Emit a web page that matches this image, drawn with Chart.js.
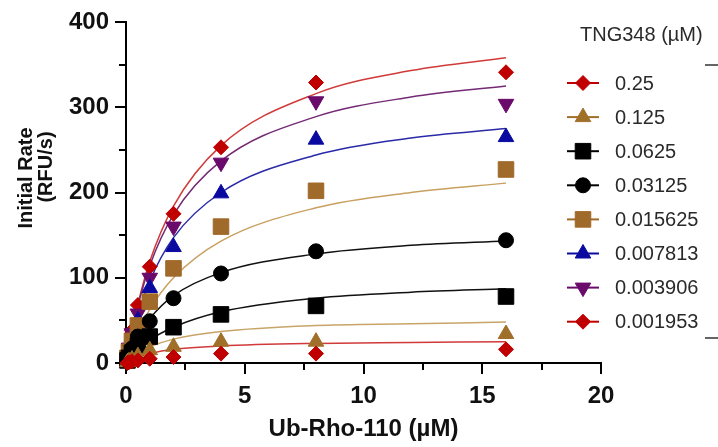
<!DOCTYPE html>
<html>
<head>
<meta charset="utf-8">
<title>Ub-Rho-110 kinetics</title>
<script src="https://cdn.jsdelivr.net/npm/chart.js@4.4.1/dist/chart.umd.min.js"></script>
<style>
    html, body { margin: 0; padding: 0; background: #fff; }
    #wrap { position: relative; width: 718px; height: 447px; }
</style>
</head>
<body>
<div id="wrap"><canvas id="chart"></canvas></div>
<script>
'use strict';

// Ub-Rho-110 concentrations (µM) of the measured points
const substrate = [0.0625, 0.125, 0.25, 0.5, 1, 2, 4, 8, 16];
const fitX = [0, 0.25, 0.5, 1, 2, 4, 8, 12, 16];

// TNG348 concentrations (µM), legend order
const inhibitor = ['0.25', '0.125', '0.0625', '0.03125', '0.015625', '0.007813', '0.003906', '0.001953'];

// initial rates (RFU/s)
const rate_0_25     = [0, 1, 2, 3, 5, 7, 11, 11, 16];
const rate_0_125    = [1, 2, 4, 8, 15, 19, 25, 25, 34];
const rate_0_0625   = [3, 6, 12, 20, 31, 42, 57, 67, 78];
const rate_0_03125  = [4, 9, 17, 31, 49, 76, 105, 131, 144];
const rate_0_015625 = [6, 13, 26, 44, 72, 111, 160, 202, 227];
const rate_0_007813 = [8, 15, 30, 50, 88, 136, 199, 262, 265];
const rate_0_003906 = [9, 18, 35, 58, 100, 160, 235, 307, 304];
const rate_0_001953 = [10, 20, 38, 68, 113, 175, 253, 329, 341];

// fitted curves at fitX
const fit_0_25     = [0, 4, 7, 11, 16, 20, 23, 24, 25];
const fit_0_125    = [0, 7, 12, 19, 28, 37, 44, 46, 48];
const fit_0_0625   = [0, 8, 15, 27, 42, 60, 76, 83, 87];
const fit_0_03125  = [0, 17, 31, 52, 79, 106, 128, 138, 143];
const fit_0_015625 = [0, 19, 36, 63, 100, 143, 182, 200, 211];
const fit_0_007813 = [0, 31, 56, 96, 147, 200, 244, 264, 275];
const fit_0_003906 = [0, 37, 67, 114, 174, 237, 289, 312, 325];
const fit_0_001953 = [0, 38, 69, 119, 184, 255, 316, 343, 358];

const xTicks = [0, 5, 10, 15, 20];
const yTicks = [0, 100, 200, 300, 400];
const xMinor = [2.5, 7.5, 12.5, 17.5];
const yMinor = [50, 150, 250, 350];

const FONT = '"Liberation Sans", Arial, sans-serif';

const series = [
    {rates: rate_0_25,     fit: fit_0_25,     color: '#c00000', line: '#d03a3a', style: 'rectRot',  radius: 7.5, rot: 0},
    {rates: rate_0_125,    fit: fit_0_125,    color: '#a0702a', line: '#c8a468', style: 'triangle', radius: 9,   rot: 0},
    {rates: rate_0_0625,   fit: fit_0_0625,   color: '#000000', line: '#111111', style: 'rect',     radius: 11,  rot: 0},
    {rates: rate_0_03125,  fit: fit_0_03125,  color: '#000000', line: '#111111', style: 'circle',   radius: 7.5, rot: 0},
    {rates: rate_0_015625, fit: fit_0_015625, color: '#a06a2a', line: '#c8a060', style: 'rect',     radius: 11,  rot: 0},
    {rates: rate_0_007813, fit: fit_0_007813, color: '#0a0aa0', line: '#2a2aa8', style: 'triangle', radius: 9,   rot: 0},
    {rates: rate_0_003906, fit: fit_0_003906, color: '#6a0a6a', line: '#742a74', style: 'triangle', radius: 9,   rot: 180},
    {rates: rate_0_001953, fit: fit_0_001953, color: '#c00000', line: '#d03a3a', style: 'rectRot',  radius: 7.5, rot: 0}
];

function buildDatasets() {
    let sets = [];
    series.forEach((s, i) => {
        sets.push({
            label: inhibitor[i] + ' fit',
            data: fitX.map((x, k) => ({x: x, y: s.fit[k]})),
            showLine: true,
            borderColor: s.line,
            borderWidth: 1.5,
            pointRadius: 0,
            cubicInterpolationMode: 'monotone',
            fill: false,
            order: 2
        });
        sets.push({
            label: inhibitor[i],
            data: substrate.map((x, k) => ({x: x, y: s.rates[k]})),
            showLine: false,
            pointStyle: s.style,
            pointRadius: s.radius,
            pointRotation: s.rot,
            backgroundColor: s.color,
            borderColor: s.color,
            borderWidth: 1,
            clip: false,
            order: 1
        });
    });
    return sets;
}

// minor ticks, y title, legend
const decorations = {
    id: 'decorations',
    beforeDraw(chart) {
        const ctx = chart.ctx;
        ctx.save();
        ctx.fillStyle = '#fff';
        ctx.fillRect(0, 0, chart.width, chart.height);
        ctx.restore();
    },
    afterDraw(chart) {
        const ctx = chart.ctx;
        const xs = chart.scales.x, ys = chart.scales.y;
        const bottom = chart.chartArea.bottom, left = chart.chartArea.left;
        ctx.save();
        ctx.strokeStyle = '#000';
        ctx.lineWidth = 2;
        ctx.beginPath();
        xMinor.forEach(v => {
            const px = Math.round(xs.getPixelForValue(v));
            ctx.moveTo(px, bottom);
            ctx.lineTo(px, bottom + 7);
        });
        yMinor.forEach(v => {
            const py = Math.round(ys.getPixelForValue(v));
            ctx.moveTo(left, py);
            ctx.lineTo(left - 7, py);
        });
        ctx.stroke();

        // y axis title, two lines
        ctx.fillStyle = '#111';
        ctx.font = 'bold 20px ' + FONT;
        ctx.textAlign = 'center';
        ctx.textBaseline = 'middle';
        ctx.save();
        ctx.translate(26, 178);
        ctx.rotate(-Math.PI / 2);
        ctx.fillText('Initial Rate', 0, 0);
        ctx.restore();
        ctx.save();
        ctx.translate(46, 167);
        ctx.rotate(-Math.PI / 2);
        ctx.fillText('(RFU/s)', 0, 0);
        ctx.restore();

        // legend
        ctx.fillStyle = '#2a2a2a';
        ctx.font = '20px ' + FONT;
        ctx.textAlign = 'left';
        ctx.fillText('TNG348 (µM)', 580, 35);
        series.forEach((s, i) => {
            const y = 83 + i * 34.1;
            ctx.strokeStyle = s.color;
            ctx.lineWidth = 2;
            ctx.beginPath();
            ctx.moveTo(567, y);
            ctx.lineTo(599, y);
            ctx.stroke();
            ctx.fillStyle = s.color;
            ctx.strokeStyle = s.color;
            ctx.lineWidth = 1;
            Chart.helpers.drawPoint(ctx, {pointStyle: s.style, radius: s.radius, rotation: s.rot, borderWidth: 1}, 583, y);
            ctx.fillStyle = '#2a2a2a';
            ctx.fillText(inhibitor[i], 615, y + 1);
        });

        // bracket ends on the right edge
        ctx.strokeStyle = '#333';
        ctx.lineWidth = 1.5;
        ctx.beginPath();
        ctx.moveTo(705, 65);
        ctx.lineTo(718, 65);
        ctx.moveTo(705, 338);
        ctx.lineTo(718, 338);
        ctx.stroke();
        ctx.restore();
    }
};

const tickFont = {family: FONT, size: 24, weight: 'bold'};
const axisGrid = {drawOnChartArea: false, drawTicks: true, tickLength: 11, lineWidth: 2, tickWidth: 2, color: '#000', tickColor: '#000'};

new Chart(document.getElementById('chart'), {
    type: 'scatter',
    data: {datasets: buildDatasets()},
    options: {
        responsive: true,
        maintainAspectRatio: false,
        animation: false,
        devicePixelRatio: 1,
        layout: {padding: {left: 0, right: 117, top: 22, bottom: 0}},
        plugins: {
            legend: {display: false},
            tooltip: {enabled: false}
        },
        scales: {
            x: {
                type: 'linear',
                min: 0,
                max: 20,
                afterBuildTicks: (scale) => { scale.ticks = xTicks.map(v => ({value: v})); },
                afterFit: (scale) => { scale.height = 84; },
                ticks: {font: tickFont, color: '#111', padding: 8},
                grid: axisGrid,
                border: {display: true, color: '#000', width: 2},
                title: {
                    display: true,
                    text: 'Ub-Rho-110 (µM)',
                    color: '#111',
                    font: {family: FONT, size: 24, weight: 'bold'},
                    padding: {top: 0, bottom: 3}
                }
            },
            y: {
                type: 'linear',
                min: 0,
                max: 400,
                afterBuildTicks: (scale) => { scale.ticks = yTicks.map(v => ({value: v})); },
                afterFit: (scale) => { scale.width = 126; },
                ticks: {font: tickFont, color: '#111', padding: 6},
                grid: axisGrid,
                border: {display: true, color: '#000', width: 2}
            }
        }
    },
    plugins: [decorations]
});
</script>
</body>
</html>
